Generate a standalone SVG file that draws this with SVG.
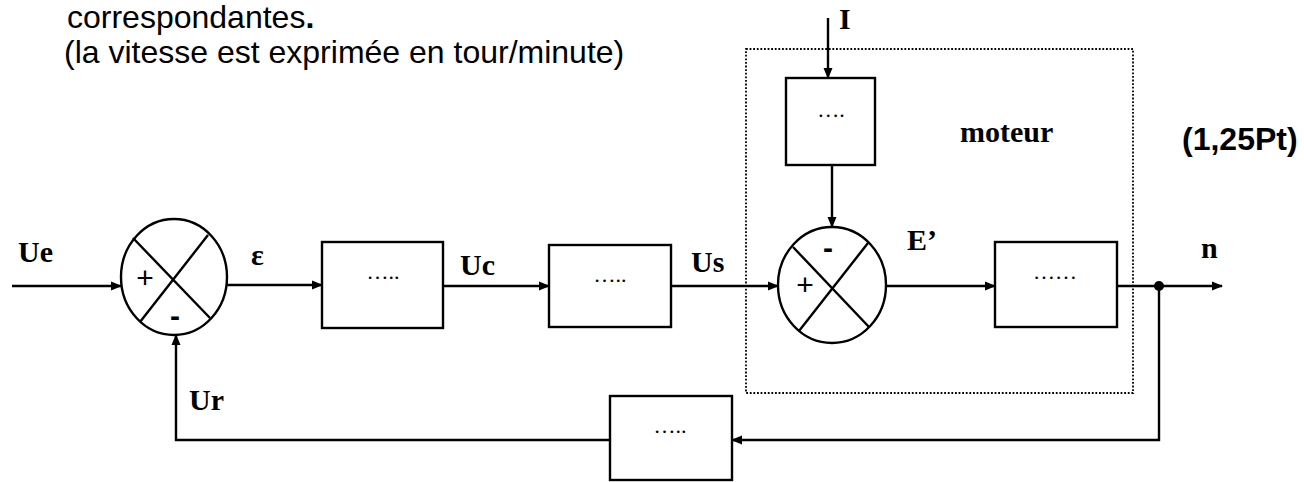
<svg xmlns="http://www.w3.org/2000/svg" width="1304" height="482" viewBox="0 0 1304 482">
<defs>
<marker id="ah" markerWidth="11" markerHeight="10" refX="10" refY="5" orient="auto" markerUnits="userSpaceOnUse">
<path d="M0,0.5 L11,5 L0,9.5 Z" fill="#000"/>
</marker>
<style>
.ln{fill:none;stroke:#000;stroke-width:2.4}
.bx{fill:#fff;stroke:#000;stroke-width:2.4}
.lbl{font-family:"Liberation Serif",serif;font-weight:bold;font-size:30px;fill:#000}
.dots{font-family:"Liberation Serif",serif;font-size:22px;fill:#000;text-anchor:middle}
.sign{font-family:"Liberation Sans",Arial,sans-serif;font-size:30px;fill:#000;text-anchor:middle}
.hdr{font-family:"Liberation Sans",Arial,sans-serif;font-size:32px;fill:#000}
</style>
</defs>
<rect width="1304" height="482" fill="#fff"/>
<text class="hdr" x="67" y="28">correspondantes<tspan font-weight="bold">.</tspan></text>
<text class="hdr" x="64" y="63">(la vitesse est exprimée en tour/minute)</text>
<text class="hdr" x="1182" y="150" font-weight="bold" font-size="31">(1,25Pt)</text>

<g id="moteur">
<rect x="746" y="49" width="387" height="344" fill="none" stroke="#000" stroke-width="1.8" stroke-dasharray="1.8 1.8"/>
<text class="lbl" x="960" y="142">moteur</text>
</g>

<g id="sum1">
<ellipse cx="174" cy="277" rx="53" ry="58" class="ln"/>
<line x1="133" y1="238" x2="210" y2="318" class="ln"/>
<line x1="208" y1="235" x2="140" y2="322" class="ln"/>
<text class="sign" x="145" y="288">+</text>
<text class="sign" x="175" y="326" font-weight="bold">-</text>
</g>

<g id="box1">
<rect x="322" y="242" width="121" height="86" class="bx"/>
<text class="dots" x="383" y="279">…..</text>
</g>
<g id="box2">
<rect x="549" y="245" width="122" height="82" class="bx"/>
<text class="dots" x="610" y="282">…..</text>
</g>
<g id="boxI">
<rect x="786" y="78" width="89" height="87" class="bx"/>
<text class="dots" x="831" y="117">….</text>
</g>
<g id="sum2">
<ellipse cx="832" cy="285" rx="54" ry="58" class="ln"/>
<line x1="793" y1="247" x2="869" y2="327" class="ln"/>
<line x1="868" y1="243" x2="799" y2="331" class="ln"/>
<text class="sign" x="805" y="295">+</text>
<text class="sign" x="828" y="258" font-weight="bold">-</text>
</g>
<g id="box3">
<rect x="995" y="242" width="122" height="85" class="bx"/>
<text class="dots" x="1055" y="279">……</text>
</g>
<g id="box4">
<rect x="610" y="396" width="122" height="84" class="bx"/>
<text class="dots" x="670" y="433">…..</text>
</g>

<g id="connectors">
<line x1="12" y1="286" x2="121" y2="286" class="ln" marker-end="url(#ah)"/>
<line x1="227" y1="285" x2="322" y2="285" class="ln" marker-end="url(#ah)"/>
<line x1="443" y1="286" x2="549" y2="286" class="ln" marker-end="url(#ah)"/>
<line x1="671" y1="286" x2="778" y2="286" class="ln" marker-end="url(#ah)"/>
<line x1="886" y1="286" x2="995" y2="286" class="ln" marker-end="url(#ah)"/>
<line x1="1117" y1="286" x2="1222" y2="286" class="ln" marker-end="url(#ah)"/>
<line x1="828" y1="18" x2="828" y2="78" class="ln" marker-end="url(#ah)"/>
<line x1="832" y1="165" x2="832" y2="227" class="ln" marker-end="url(#ah)"/>
<polyline points="1159,286 1159,440 732,440" class="ln" marker-end="url(#ah)"/>
<polyline points="610,440 176,440 176,335" class="ln" marker-end="url(#ah)"/>
<circle cx="1159" cy="286" r="5" fill="#000"/>
</g>

<g id="labels">
<text class="lbl" x="18" y="262">Ue</text>
<text class="lbl" x="251" y="265">ε</text>
<text class="lbl" x="460" y="275">Uc</text>
<text class="lbl" x="691" y="272">Us</text>
<text class="lbl" x="839" y="29">I</text>
<text class="lbl" x="907" y="250">E’</text>
<text class="lbl" x="1201" y="258">n</text>
<text class="lbl" x="189" y="410">Ur</text>
</g>
</svg>
